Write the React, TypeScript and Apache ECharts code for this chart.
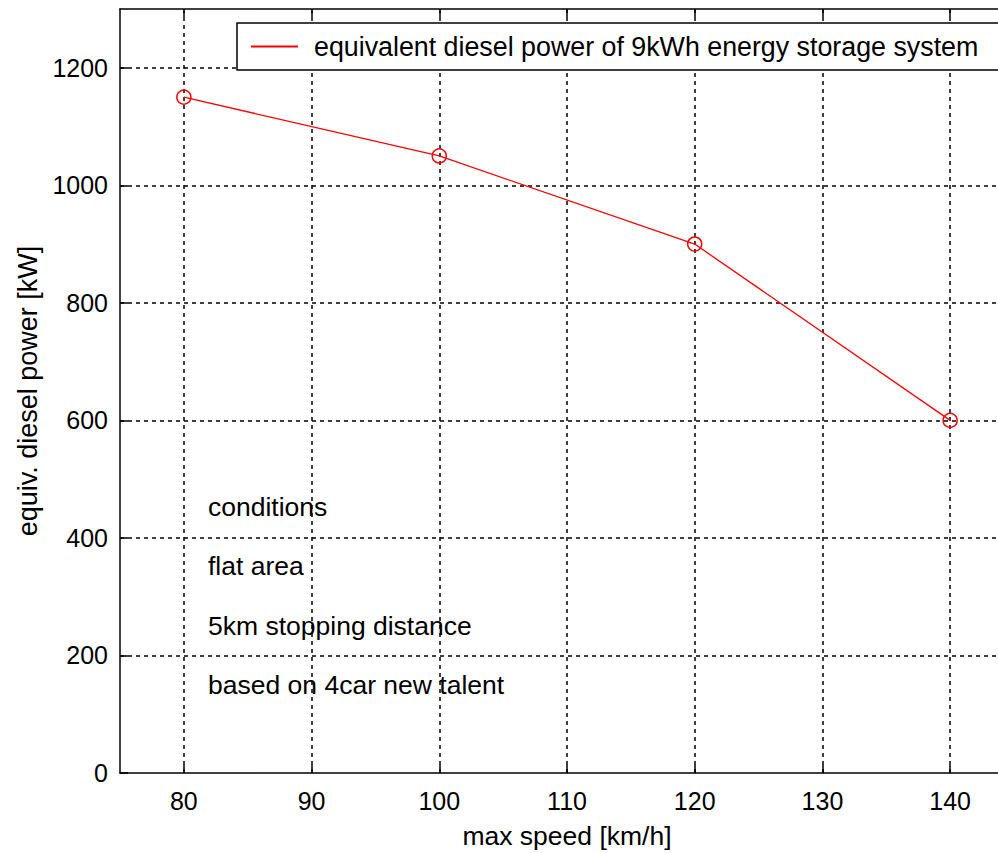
import React, { useEffect, useRef } from "react";
import * as echarts from "echarts";

const speeds = [80, 100, 120, 140];
const power = [1150, 1050, 900, 600];
const seriesName = "equivalent diesel power of 9kWh energy storage system";
const xTicks = [80, 90, 100, 110, 120, 130, 140];
const yTicks = [0, 200, 400, 600, 800, 1000, 1200];
const notes = ["conditions", "flat area", "5km stopping distance", "based on 4car new talent"];
const noteY = [508, 567, 627, 686];

const FONT = "Liberation Sans";

export default function App() {
  const ref = useRef<HTMLDivElement>(null);
  useEffect(() => {
    if (!ref.current) return;
    const chart = echarts.init(ref.current, null, { renderer: "svg" });
    const axisLine = { show: true, lineStyle: { color: "#000", width: 1.5 } };
    const tickX = { show: true, inside: true, length: 8, customValues: xTicks, lineStyle: { color: "#000", width: 1.5 } };
    const tickY = { show: true, inside: true, length: 8, customValues: yTicks, lineStyle: { color: "#000", width: 1.5 } };
    const gridLines = [
      ...xTicks.map((v) => ({ xAxis: v })),
      ...yTicks.filter((v) => v > 0).map((v) => ({ yAxis: v })),
    ];
    chart.setOption({
      animation: false,
      backgroundColor: "#fff",
      textStyle: { fontFamily: FONT },
      grid: { left: 120, width: 894, top: 9, height: 764, containLabel: false, outerBoundsMode: "none" },
      legend: {
        left: 237,
        top: 23,
        orient: "horizontal",
        data: [{ name: seriesName, icon: "rect", itemStyle: { color: "#ff0000", borderWidth: 0 } }],
        itemWidth: 47,
        itemHeight: 2,
        backgroundColor: "#fff",
        borderColor: "#000",
        borderWidth: 1.5,
        borderRadius: 0,
        padding: [10, 60, 10, 14],
        textStyle: { fontFamily: FONT, fontSize: 26.8, color: "#000", padding: [0, 0, 0, 11] },
      },
      xAxis: [
        {
          type: "value",
          min: 75,
          max: 145,
          name: "max speed [km/h]",
          nameLocation: "middle",
          nameGap: 49,
          nameTextStyle: { fontFamily: FONT, fontSize: 26.5, color: "#000" },
          axisLine,
          axisTick: tickX,
          axisLabel: {
            color: "#000",
            fontSize: 25,
            fontFamily: FONT,
            margin: 15,
            customValues: xTicks,
            formatter: (v: number) => String(v),
          },
          splitLine: { show: false },
        },
        {
          type: "value",
          min: 75,
          max: 145,
          position: "top",
          axisLine,
          axisTick: tickX,
          axisLabel: { show: false },
          splitLine: { show: false },
        },
      ],
      yAxis: [
        {
          type: "value",
          min: 0,
          max: 1300,
          name: "equiv. diesel power [kW]",
          nameLocation: "middle",
          nameGap: 72,
          nameRotate: 90,
          nameTextStyle: { fontFamily: FONT, fontSize: 27, color: "#000" },
          axisLine,
          axisTick: tickY,
          axisLabel: {
            color: "#000",
            fontSize: 25,
            fontFamily: FONT,
            margin: 12,
            customValues: yTicks,
            formatter: (v: number) => String(v),
          },
          splitLine: { show: false },
        },
      ],
      graphic: notes.map((t, i) => ({
        type: "text",
        left: 208,
        top: noteY[i] - 15,
        z: -1,
        style: { text: t, fontFamily: FONT, fontSize: 26.5, fill: "#000" },
      })),
      series: [
        {
          name: seriesName,
          type: "line",
          xAxisIndex: 0,
          yAxisIndex: 0,
          data: speeds.map((s, i) => [s, power[i]]),
          lineStyle: { color: "#ff0000", width: 1.3 },
          itemStyle: { color: "rgba(0,0,0,0)", borderColor: "#ff0000", borderWidth: 1.5 },
          symbol: "circle",
          symbolSize: 14,
          z: 5,
          markLine: {
            silent: true,
            symbol: "none",
            z: 1,
            label: { show: false },
            lineStyle: { color: "#000", type: [4, 4], width: 1.5 },
            emphasis: { disabled: true },
            data: gridLines,
          },
        },
      ],
    });
    return () => chart.dispose();
  }, []);
  return (
    <div style={{ position: "absolute", left: 0, top: 0, width: 998, height: 853, overflow: "hidden" }}>
      <div ref={ref} style={{ width: 1020, height: 853 }} />
    </div>
  );
}
